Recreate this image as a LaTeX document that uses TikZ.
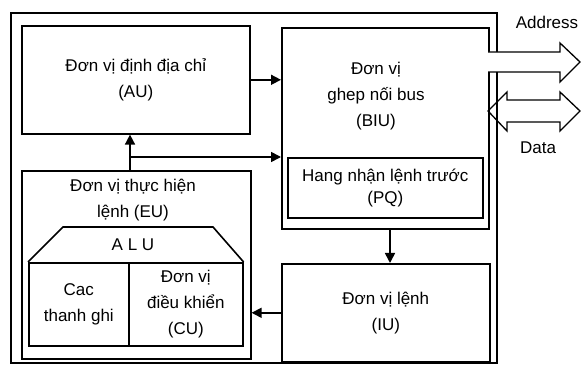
\documentclass[tikz,border=0pt]{standalone}
\usepackage{fontspec}
\setmainfont{Liberation Sans}
\usetikzlibrary{arrows.meta}
\begin{document}
\begin{tikzpicture}[x=1pt,y=-1pt,
  unit/.style={draw, line width=1.6pt, inner sep=0pt, anchor=north west,
    font=\fontsize{17}{26}\selectfont, align=center},
  txt/.style={font=\fontsize{17}{26}\selectfont, align=center, inner sep=0pt},
  flow/.style={line width=1.6pt, -{Triangle[length=10pt,width=10pt]}},
  bus/.style={draw, line width=1.3pt, line join=miter}
]
\useasboundingbox (0,0) rectangle (581,366);

% processor frame
\node[unit, minimum width=486, minimum height=350] (cpu) at (10,12) {};

% functional units
\node[unit, minimum width=228, minimum height=108] (au) at (21,25)
  {Đơn vị định địa chỉ\\(AU)};
\node[unit, minimum width=207, minimum height=201] (biu) at (281,27) {};
\node[txt] (biutext) at (376,96) {Đơn vị\\ghep nối bus\\(BIU)};
\node[unit, minimum width=195, minimum height=60,
  font=\fontsize{17}{22}\selectfont] (pq) at (287,157)
  {Hang nhận lệnh trước\\(PQ)};
\node[unit, minimum width=229, minimum height=188] (eu) at (21,170) {};
\node[txt] (eutext) at (133,200) {Đơn vị thực hiện\\lệnh (EU)};
\node[unit, minimum width=100, minimum height=83] (regs) at (28,262)
  {Cac\\thanh ghi};
\node[unit, minimum width=114, minimum height=83] (cu) at (128,262)
  {Đơn vị\\điều khiển\\(CU)};
\node[unit, minimum width=208, minimum height=98] (iu) at (281,263)
  {Đơn vị lệnh\\(IU)};

% ALU trapezoid on top of the two cells
\draw[line width=1.6pt, line join=miter] (regs.north west) -- (63,227) -- (213,227) -- (cu.north east);
\node[txt] (alu) at (133,245) {A L U};

% data paths between units
\coordinate (split) at (130,157);
\coordinate (drop) at (390,0);
\draw[flow] (au.east) -- (au.east -| biu.west);
\draw[flow] (eu.north -| split) -- (au.south -| split);
\draw[flow] (split) -- (split -| biu.west);
\draw[flow] (biu.south -| drop) -- (iu.north -| drop);
\draw[flow] (iu.west) -- (iu.west -| eu.east);

% external buses
\draw[bus, fill=white] (488,52) -- (560,52) -- (560,43) -- (580,62) -- (560,82)
  -- (560,72) -- (488,72);
\draw[bus] (507,100) -- (560,100) -- (560,92) -- (580,111) -- (560,131)
  -- (560,122) -- (507,122) -- (507,131) -- (488,111) -- (507,92) -- cycle;
\node[txt] (addr) at (547,22) {Address};
\node[txt] (data) at (538,148) {Data};
\end{tikzpicture}
\end{document}
